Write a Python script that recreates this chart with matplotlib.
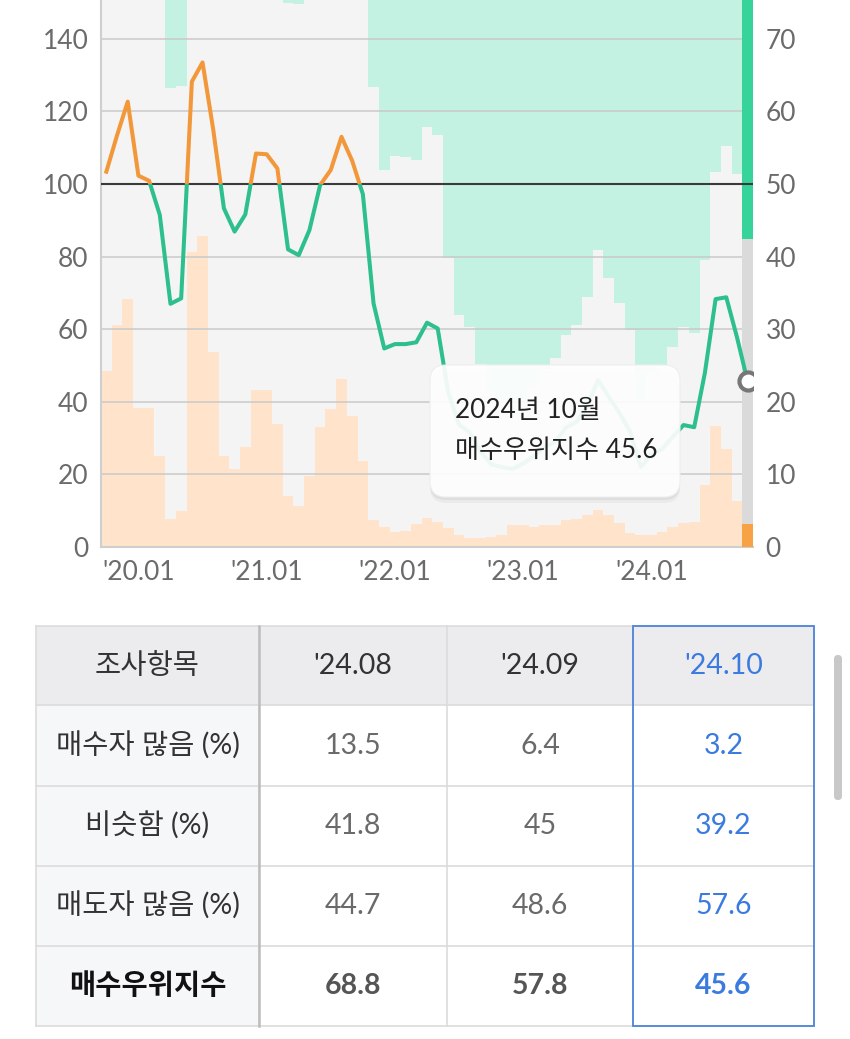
import numpy as np
import matplotlib.pyplot as plt
from matplotlib.patches import Rectangle, FancyBboxPatch

plt.rcParams['font.family'] = ['Lato', 'Noto Sans CJK KR', 'DejaVu Sans']

# monthly survey, 2019.10 .. 2024.10
buyers = [24.2, 30.6, 34.2, 19.1, 19.1, 12.6, 3.8, 5.0, 40.7, 42.8,
          26.8, 12.5, 10.7, 13.8, 21.6, 21.6, 16.9, 7.0, 5.6, 9.8,
          16.5, 19.0, 23.2, 18.1, 11.9, 3.7, 2.7, 2.1, 2.2, 3.1,
          4.0, 3.5, 2.6, 1.7, 1.2, 1.2, 1.4, 1.7, 3.0, 3.0,
          2.8, 3.0, 3.0, 3.7, 3.9, 4.4, 5.1, 4.4, 3.3, 1.9,
          1.7, 1.7, 2.1, 2.8, 3.3, 3.5, 8.5, 16.6, 13.5, 6.4, 3.2]
sellers = [20.8, 17.2, 11.5, 16.8, 18.2, 21.1, 36.8, 36.5, 12.5, 9.3,
           11.8, 19.2, 23.8, 22.2, 13.2, 13.4, 12.6, 25.0, 25.2, 22.5,
           16.8, 15.1, 10.2, 11.7, 14.7, 36.6, 48.0, 46.2, 46.3, 46.7,
           42.2, 43.3, 60.2, 68.0, 69.7, 74.8, 78.6, 79.7, 81.5, 80.0,
           77.8, 75.5, 74.0, 70.8, 69.4, 65.5, 59.1, 63.0, 66.4, 70.1,
           79.7, 76.2, 75.1, 72.4, 69.7, 70.5, 60.5, 48.3, 44.7, 48.6, 57.6]
index = [103.4, 113.4, 122.7, 102.3, 100.9, 91.5, 67.0, 68.5, 128.2, 133.5,
         115.0, 93.3, 86.9, 91.6, 108.4, 108.2, 104.3, 82.0, 80.4, 87.3,
         99.7, 103.9, 113.0, 106.4, 97.2, 67.1, 54.7, 55.9, 55.9, 56.4,
         61.8, 60.2, 42.4, 33.7, 31.5, 26.4, 22.8, 22.0, 21.5, 23.0,
         25.0, 27.5, 29.0, 32.9, 34.5, 38.9, 46.0, 41.4, 36.9, 31.8,
         22.0, 25.5, 27.0, 30.4, 33.6, 33.0, 48.0, 68.3, 68.8, 57.8, 45.6]

tick_pos = [3, 15, 27, 39, 51]
tick_labels = ["'20.01", "'21.01", "'22.01", "'23.01", "'24.01"]

tbl_header = ['조사항목', "'24.08", "'24.09", "'24.10"]
tbl_rows = ['매수자 많음 (%)', '비슷함 (%)', '매도자 많음 (%)', '매수우위지수']
tbl_buy = [13.5, 6.4, 3.2]
tbl_similar = [41.8, 45, 39.2]
tbl_sell = [44.7, 48.6, 57.6]
tbl_index = [68.8, 57.8, 45.6]

W, H = 850, 1039
fig = plt.figure(figsize=(W / 100, H / 100), dpi=100)
fig.patch.set_facecolor('white')

ax = fig.add_axes([101 / W, 1 - 547 / H, 652 / W, 547 / H])
x = np.arange(len(buyers))
b = np.array(buyers)
s = np.array(sellers)
sim = 100 - b - s

# stacked 100% bars (right scale), last month highlighted
ax.bar(x[:-1], b[:-1], width=1.0, color='#ffe4cb', linewidth=0, zorder=1)
ax.bar(x[:-1], sim[:-1], bottom=b[:-1], width=1.0, color='#f4f4f4', linewidth=0, zorder=1)
ax.bar(x[:-1], s[:-1], bottom=100 - s[:-1], width=1.0, color='#c3f1e2', linewidth=0, zorder=1)
for v in range(10, 80, 10):
    if v != 50:
        ax.axhline(v, color='#c9c9c9', lw=1.1, zorder=2)
ax.bar(x[-1], b[-1], width=1.0, color='#f7a244', linewidth=0, zorder=3)
ax.bar(x[-1], sim[-1], bottom=b[-1], width=1.0, color='#dadada', linewidth=0, zorder=3)
ax.bar(x[-1], s[-1], bottom=100 - s[-1], width=1.0, color='#36d39b', linewidth=0, zorder=3)

ax.set_xlim(-0.5, len(x) - 0.5)
ax.set_ylim(0, 75.35)
ax.set_xticks(tick_pos)
ax.set_xticklabels(tick_labels)
for sp in ['top', 'right']:
    ax.spines[sp].set_visible(False)
for sp in ['left', 'bottom']:
    ax.spines[sp].set_color('#cfcfcf')
    ax.spines[sp].set_linewidth(1.5)

# index line (left scale)
ax2 = ax.twinx()
ax2.set_ylim(0, 150.7)
ax.yaxis.tick_right()
ax.set_yticks(range(0, 80, 10))
ax2.yaxis.tick_left()
ax2.set_yticks(range(0, 160, 20))
ax.tick_params(axis='both', length=0, labelsize=19, colors='#6b6b6b')
ax.tick_params(axis='y', pad=9, labelleft=False, labelright=True)
ax.tick_params(axis='x', pad=9)
ax2.tick_params(axis='y', length=0, labelsize=19, colors='#6b6b6b', pad=9,
                labelleft=True, labelright=False)
for sp in ax2.spines.values():
    sp.set_visible(False)
ax2.axhline(100, color='#3a3a3a', lw=1.5, zorder=1)

clip_up = Rectangle((-5, 100), 80, 100, transform=ax2.transData)
clip_dn = Rectangle((-5, -100), 80, 200, transform=ax2.transData)
lg, = ax2.plot(x, index, color='#2dbf8c', lw=2.9, solid_joinstyle='round', zorder=3)
lg.set_clip_path(clip_dn)
lo, = ax2.plot(x, index, color='#f2983a', lw=2.9, solid_joinstyle='round', zorder=3)
lo.set_clip_path(clip_up)
ax2.plot(x[-1], index[-1], 'o', ms=13, mfc='white', mec='#777777', mew=3, zorder=5)

# overlay in pixel coordinates: tooltip and table
ov = fig.add_axes([0, 0, 1, 1], zorder=10)
ov.set_xlim(0, W)
ov.set_ylim(H, 0)
ov.axis('off')
ov.patch.set_alpha(0)

for off, a in [(6, 0.04), (3, 0.05)]:
    ov.add_patch(FancyBboxPatch((430, 365 + off), 250, 132, boxstyle='round,pad=0,rounding_size=16',
                                fc='black', ec='none', alpha=a))
ov.add_patch(FancyBboxPatch((430, 365), 250, 132, boxstyle='round,pad=0,rounding_size=16',
                            fc='white', ec='#eeeeee', lw=0.8, alpha=0.92))
ov.text(455, 410, '2024년 10월', fontsize=18.8, color='#222222', va='center', ha='left')
ov.text(455, 451, '매수우위지수 45.6', fontsize=18.8, color='#222222', va='center', ha='left')

col_x = [36, 259, 447, 633, 814]
row_y = [626, 705, 786, 866, 946, 1026]
blue = '#3b7be0'

ov.add_patch(Rectangle((col_x[0], row_y[0]), col_x[-1] - col_x[0], row_y[1] - row_y[0],
                       fc='#ececee', ec='none'))
ov.add_patch(Rectangle((col_x[0], row_y[1]), col_x[1] - col_x[0], row_y[-1] - row_y[1],
                       fc='#f6f7f9', ec='none'))
for yy in row_y:
    ov.plot([col_x[0], col_x[-1]], [yy, yy], color='#dcdcdc', lw=1.2)
for xx in col_x:
    ov.plot([xx, xx], [row_y[0], row_y[-1]], color='#dcdcdc', lw=1.2)
ov.plot([col_x[1], col_x[1]], [row_y[0], row_y[-1]], color='#bdbdbd', lw=1.8)
ov.add_patch(Rectangle((col_x[3], row_y[0]), col_x[4] - col_x[3], row_y[-1] - row_y[0],
                       fill=False, ec='#4d84dc', lw=1.3, zorder=5))

cx = [(col_x[i] + col_x[i + 1]) / 2 for i in range(4)]
cy = [(row_y[i] + row_y[i + 1]) / 2 for i in range(5)]
for j, t in enumerate(tbl_header):
    ov.text(cx[j], cy[0], t, fontsize=20.5, ha='center', va='center',
            color=blue if j == 3 else '#333333')
rows_vals = [tbl_buy, tbl_similar, tbl_sell, tbl_index]
for i, (lab, vals) in enumerate(zip(tbl_rows, rows_vals)):
    bold = i == 3
    ov.text(cx[0], cy[i + 1], lab, fontsize=20.5, ha='center', va='center',
            color='#111111' if bold else '#333333', fontweight='bold' if bold else 'normal')
    for j, v in enumerate(vals):
        ov.text(cx[j + 1], cy[i + 1], f'{v:g}', fontsize=20.5, ha='center', va='center',
                color=blue if j == 2 else ('#555555' if bold else '#6a6a6a'),
                fontweight='bold' if bold else 'normal')

ov.add_patch(FancyBboxPatch((834, 655), 8, 145, boxstyle='round,pad=0,rounding_size=4',
                            fc='#c8c8c8', ec='none'))

fig.savefig('out.png', dpi=100, facecolor='white')
